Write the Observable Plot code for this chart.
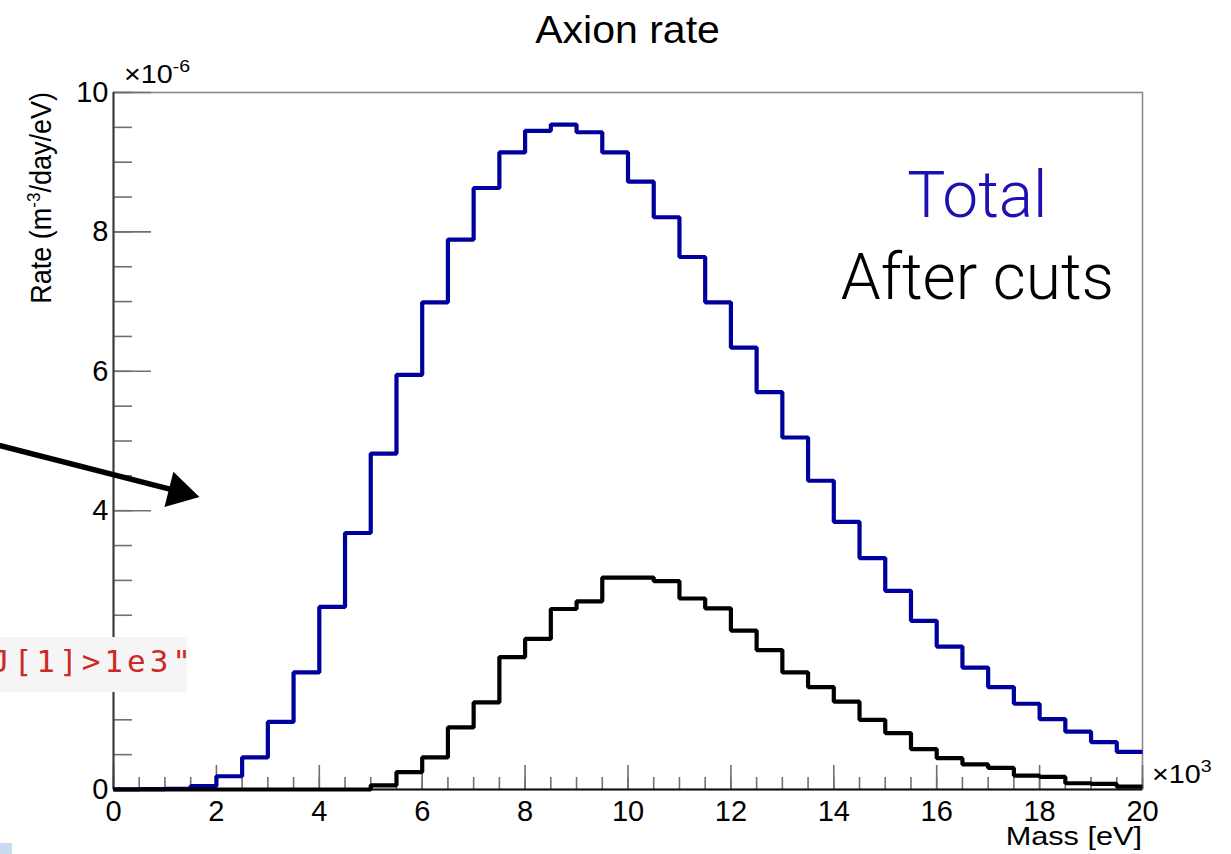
<!DOCTYPE html>
<html>
<head>
<meta charset="utf-8">
<script src="https://cdn.jsdelivr.net/npm/d3@7"></script>
<script src="https://cdn.jsdelivr.net/npm/@observablehq/plot@0.6"></script>
<style>
  body { margin: 0; background: #fff; }
  #wrap { position: relative; width: 1231px; height: 854px; overflow: hidden; background: #fff; }
  #wrap svg { position: absolute; left: 0; top: 0; }
  #code { position: absolute; left: 0; top: 637px; width: 187px; height: 55px; background: #f5f5f5; overflow: hidden; }
  #code span { position: absolute; left: -9px; top: 6px; font-family: "DejaVu Sans Mono", monospace; font-size: 31px; letter-spacing: 4px; color: #cc2a26; white-space: pre; }
  #corner { position: absolute; left: 0; top: 843px; width: 12px; height: 11px; background: #c9dcef; }
</style>
</head>
<body>
<div id="wrap">
  <div id="code"><span>J[1]&gt;1e3"</span></div>
  <div id="corner"></div>
</div>
<script>
// ---- data (x in units of 10^3 eV, y in units of 10^-6 m^-3/day/eV) ----
const binWidth = 0.5;
const total = [
  0.003, 0.005, 0.01, 0.05, 0.19, 0.46, 0.97, 1.68, 2.62, 3.68,
  4.82, 5.95, 6.99, 7.89, 8.63, 9.14, 9.45, 9.54, 9.43, 9.14,
  8.72, 8.21, 7.64, 6.99, 6.34, 5.70, 5.05, 4.43, 3.84, 3.32,
  2.85, 2.42, 2.05, 1.75, 1.47, 1.23, 1.01, 0.83, 0.68, 0.54
];
const afterCuts = [
  0, 0, 0, 0, 0, 0, 0, 0, 0, 0,
  0.06, 0.25, 0.46, 0.89, 1.25, 1.90, 2.16, 2.59, 2.70, 3.04,
  3.04, 2.99, 2.74, 2.60, 2.28, 2.00, 1.68, 1.47, 1.26, 1.00,
  0.81, 0.58, 0.45, 0.36, 0.31, 0.20, 0.18, 0.09, 0.08, 0.04
];
const xTicks = [0, 2, 4, 6, 8, 10, 12, 14, 16, 18, 20];
const yTicks = [0, 2, 4, 6, 8, 10];
const xDomain = [0, 20];
const yDomain = [0, 10];
const legendItems = [
  {label: "Total", x: 16.79, y: 8.21, color: "#1f10b4"},
  {label: "After cuts", x: 16.79, y: 7.04, color: "#000000"}
];
const arrowShaft = [{x1: -2.4, y1: 4.97, x2: 1.36, y2: 4.26}];
const arrowHead = [{x: 1.275, y: 4.27, angle: 104.2}];

// ---- build ----
const steps = (vals) => {
  const pts = vals.map((v, i) => ({x: i * binWidth, y: v}));
  pts.push({x: vals.length * binWidth, y: vals[vals.length - 1]});
  return pts;
};
const xMinor = d3.range(xDomain[0], xDomain[1] + 1e-9, binWidth);
const yMinor = d3.range(yDomain[0], yDomain[1] + 1e-9, 0.5);

const W = 1231, H = 854;
const mL = 113, mR = 89, mT = 92, mB = 65;
const fw = W - mL - mR, fh = H - mT - mB;
const FONT = "'Liberation Sans', Arial, Helvetica, sans-serif";

const chart = Plot.plot({
  width: W, height: H,
  marginLeft: mL, marginRight: mR, marginTop: mT, marginBottom: mB,
  style: {fontFamily: FONT, background: "transparent", overflow: "visible"},
  x: {domain: xDomain},
  y: {domain: yDomain},
  marks: [
    Plot.frame({stroke: "#8a8a8a", strokeWidth: 1.6}),
    Plot.ruleX(xMinor, {x: d => d, insetTop: fh - 12, stroke: "#707070", strokeWidth: 1.6}),
    Plot.ruleX(xTicks, {x: d => d, insetTop: fh - 24, stroke: "#707070", strokeWidth: 1.6}),
    Plot.ruleY(yMinor, {y: d => d, insetRight: fw - 19, stroke: "#707070", strokeWidth: 1.6}),
    Plot.ruleY(yTicks, {y: d => d, insetRight: fw - 38, stroke: "#707070", strokeWidth: 1.6}),
    Plot.ruleX([xDomain[0]], {stroke: "#3a3a3a", strokeWidth: 2}),
    Plot.ruleY([yDomain[0]], {stroke: "#111", strokeWidth: 2.2}),
    Plot.axisX(xTicks, {tickSize: 0, tickPadding: 11, fontSize: 29, fill: "#000", label: null, tickFormat: d3.format("d")}),
    Plot.axisY(yTicks, {tickSize: 0, tickPadding: 5, fontSize: 29, fill: "#000", label: null, tickFormat: d3.format("d")}),
    Plot.line(steps(total), {x: "x", y: "y", curve: "step-after", stroke: "#00009c", strokeWidth: 4.2, strokeLinejoin: "miter", strokeLinecap: "butt"}),
    Plot.line(steps(afterCuts), {x: "x", y: "y", curve: "step-after", stroke: "#000000", strokeWidth: 4.2, strokeLinejoin: "miter", strokeLinecap: "butt"}),
    Plot.text(legendItems, {x: "x", y: "y", text: "label", fill: "color", fontSize: 64, fontWeight: 300, lineAnchor: "bottom", textAnchor: "middle", fontFamily: "Roboto, 'Liberation Sans', sans-serif"}),
    Plot.link(arrowShaft, {x1: "x1", y1: "y1", x2: "x2", y2: "y2", stroke: "#000", strokeWidth: 5.5}),
    Plot.dot(arrowHead, {x: "x", y: "y", symbol: "triangle", r: 13.5, fill: "#000", stroke: "none", rotate: "angle"})
  ]
});
document.getElementById("wrap").prepend(chart);

// titles and exponents (text with superscripts)
const svg = d3.select(chart);
const xs = chart.scale("x"), ys = chart.scale("y");
const xL = xs.apply(xDomain[0]), xR = xs.apply(xDomain[1]);
const yB = ys.apply(yDomain[0]), yT = ys.apply(yDomain[1]);
const g = svg.append("g").attr("font-family", FONT).attr("fill", "#000").attr("text-anchor", "start");

g.append("text").attr("transform", `translate(${(xL + xR) / 2},${yT - 49}) scale(1.08,1)`)
  .attr("text-anchor", "middle").attr("font-size", 38).text("Axion rate");

const yl = g.append("text").attr("transform", `translate(${xL - 62},${yT}) rotate(-90) scale(1,1.1)`)
  .attr("text-anchor", "end").attr("font-size", 27);
yl.append("tspan").text("Rate (m");
yl.append("tspan").attr("font-size", 17).attr("dy", -10).text("-3");
yl.append("tspan").attr("dy", 10).text("/day/eV)");

const ey = g.append("text").attr("transform", `translate(${xL + 11},${yT - 9}) scale(1.15,1)`)
  .attr("text-anchor", "start").attr("font-size", 25);
ey.append("tspan").text("×10");
ey.append("tspan").attr("font-size", 17).attr("dy", -11).text("-6");

const ex = g.append("text").attr("transform", `translate(${xR + 10},${yB - 6}) scale(1.15,1)`)
  .attr("text-anchor", "start").attr("font-size", 25);
ex.append("tspan").text("×10");
ex.append("tspan").attr("font-size", 17).attr("dy", -11).text("3");

g.append("text").attr("transform", `translate(${xR},${yB + 56}) scale(1.18,1)`).attr("text-anchor", "end")
  .attr("font-size", 26).text("Mass [eV]");
</script>
</body>
</html>
